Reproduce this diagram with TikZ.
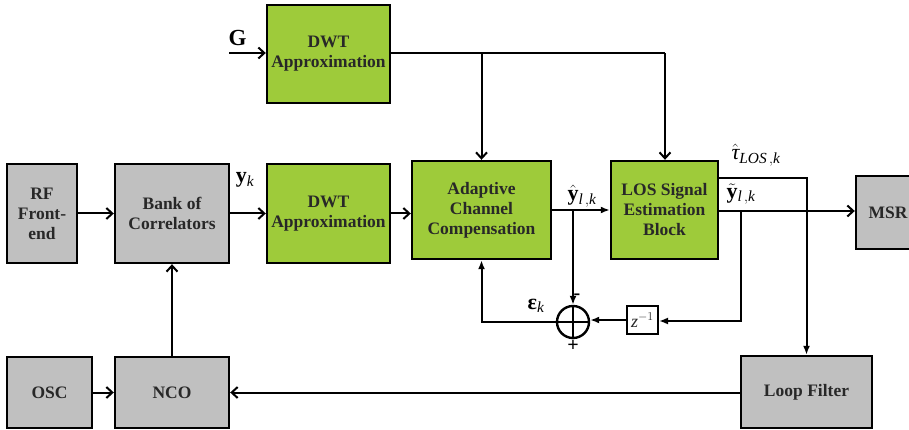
\documentclass[tikz,border=0pt]{standalone}
\usepackage{amsmath}
\usepackage{bm}
\usepackage{fontspec}
\setmainfont{Liberation Serif}
\usetikzlibrary{arrows.meta}
\definecolor{grn}{RGB}{158,203,58}
\definecolor{gry}{RGB}{192,192,192}
\definecolor{txt}{RGB}{40,40,40}
\begin{document}
\begin{tikzpicture}[x=1pt,y=-1pt,
  blk/.style={draw=black, line width=2.4pt, align=center, inner sep=0pt,
    font=\fontsize{17.5}{20}\selectfont\bfseries, text=txt},
  gblk/.style={blk, fill=grn},
  sblk/.style={blk, fill=gry},
  ln/.style={line width=2pt},
  ch/.style={ln, -{Straight Barb[length=6pt,width=11pt]}},
  fa/.style={ln, -{Latex[length=9pt,width=7pt]}},
  lbl/.style={inner sep=0pt, font=\fontsize{22}{22}\selectfont}
]
\clip (0,0) rectangle (909,430);
% blocks
\node[gblk, minimum width=123pt, minimum height=98pt] (dwt1) at (328.5,54) {DWT\\Approximation};
\node[sblk, minimum width=70pt, minimum height=99pt] (rf) at (42,213.5) {RF\\Front-\\end};
\node[sblk, minimum width=114pt, minimum height=99pt] (bank) at (172,213.5) {Bank of\\Correlators};
\node[gblk, minimum width=123pt, minimum height=99pt] (dwt2) at (328.5,213.5) {DWT\\Approximation};
\node[gblk, minimum width=139pt, minimum height=98pt] (acc) at (481.5,210) {Adaptive\\Channel\\Compensation};
\node[gblk, minimum width=107pt, minimum height=98pt] (los) at (664.5,210) {LOS Signal\\Estimation\\Block};
\node[sblk, minimum width=64pt, minimum height=73pt, text width=60pt] (msr) at (888,212.5) {MSR};
\node[sblk, minimum width=85pt, minimum height=71pt] (osc) at (49.5,392.5) {OSC};
\node[sblk, minimum width=114pt, minimum height=71pt] (nco) at (172,392.5) {NCO};
\node[sblk, minimum width=131pt, minimum height=72pt] (loop) at (806.5,392) {Loop Filter};
\node[draw=black, line width=2pt, fill=white, minimum width=31pt, minimum height=28pt, inner sep=0pt,
  font=\fontsize{18}{18}\selectfont, text=txt] (zd) at (642.5,320) {$\mathit{z}^{-1}$};
\node[draw=black, line width=2.4pt, circle, minimum size=32pt, inner sep=0pt] (sum) at (573,322) {};
\draw[ln] (sum.north) -- (sum.south) (sum.west) -- (sum.east);
% coordinates
\coordinate (gin) at (229,53);
\coordinate (topj) at (481.5,53);
\coordinate (topr) at (665,53);
\coordinate (yhj) at (573,210);
\coordinate (ytj) at (741,211);
\coordinate (ytd) at (741,321);
\coordinate (taus) at (718,178);
\coordinate (taur) at (806.5,178);
\coordinate (epsc) at (481.5,322);
% connectors
\draw[ch] (gin) -- (gin -| dwt1.west);
\draw[ln] (dwt1.east |- topr) -- (topr);
\draw[ch] (topj) -- (acc.north);
\draw[ch] (topr) -- (topr |- los.north);
\draw[ch] (rf.east) -- (bank.west);
\draw[ch] (bank.east) -- (dwt2.west);
\draw[ch] (dwt2.east) -- (dwt2.east -| acc.west);
\draw[fa] (acc.east) -- (los.west);
\draw[fa] (yhj) -- (sum.north);
\draw[ch] (los.east |- ytj) -- (ytj -| msr.west);
\draw[fa] (ytj) -- (ytd) -- (ytd -| zd.east);
\draw[fa] (zd.west) -- (zd.west -| sum.east);
\draw[fa] (sum.west) -- (epsc) -- (acc.south);
\draw[fa] (taus) -- (taur) -- (loop.north);
\draw[ch] (loop.west |- nco.east) -- (nco.east);
\draw[ch] (osc.east) -- (nco.west);
\draw[ch] (nco.north) -- (bank.south);
% labels
\node[inner sep=0pt, font=\fontsize{23}{23}\selectfont\bfseries] (G) at (237.5,38) {G};
\node[lbl] (yk) at (245,180) {$\mathbf{y}_{\mathit{k}}$};
\node[lbl] (yh) at (582,196) {$\hat{\mathbf{y}}_{\mathit{l\,,k}}$};
\node[lbl] (tau) at (756,155) {$\hat{\text{\itshape τ}}_{\mathit{LOS\,,k}}$};
\node[lbl] (yt) at (741,194) {$\tilde{\mathbf{y}}_{\mathit{l\,,k}}$};
\node[lbl] (eps) at (536,306) {\textbf{ε}$_{\mathit{k}}$};
\node[inner sep=0pt, font=\fontsize{20}{20}\selectfont\bfseries] (mi) at (577,297) {-};
\node[inner sep=0pt, font=\fontsize{20}{20}\selectfont\bfseries] (pl) at (573,346) {+};
\end{tikzpicture}
\end{document}
